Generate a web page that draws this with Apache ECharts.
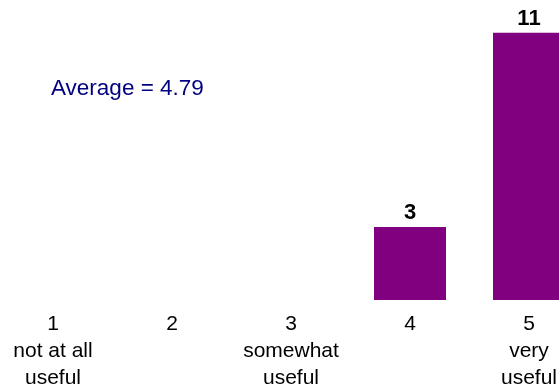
<!DOCTYPE html>
<html>
<head>
<meta charset="utf-8">
<script src="https://cdn.jsdelivr.net/npm/echarts@6/dist/echarts.min.js"></script>
<style>
  html, body { margin: 0; padding: 0; background: #fff; }
  #chart { width: 559px; height: 387px; }
</style>
</head>
<body>
<div id="chart"></div>
<script>
// Rating scale: response counts per score
const scores = ['1', '2', '3', '4', '5'];
const scoreNames = ['not at all\nuseful', '', 'somewhat\nuseful', '', 'very\nuseful'];
const counts = [0, 0, 0, 3, 11];
const averageText = 'Average = 4.79';

const categoryLabels = scores.map((s, i) => scoreNames[i] ? s + '\n' + scoreNames[i] : s);
const FONT = 'Liberation Sans, Arial, sans-serif';

const chart = echarts.init(document.getElementById('chart'), null, { renderer: 'canvas' });

chart.setOption({
  animation: false,
  grid: {
    left: -6.5, width: 595, top: 8.4, bottom: 87,
    containLabel: false,
    outerBoundsMode: 'none'
  },
  xAxis: {
    type: 'category',
    data: categoryLabels,
    axisLine: { show: false },
    axisTick: { show: false },
    axisLabel: {
      interval: 0,
      margin: 11,
      fontFamily: FONT,
      fontSize: 21,
      lineHeight: 26.7,
      color: '#000'
    }
  },
  yAxis: {
    type: 'value',
    min: 0,
    max: 12,
    show: false,
    splitLine: { show: false }
  },
  series: [{
    type: 'bar',
    data: counts.map(v => (v === 0 ? null : v)),
    barWidth: 72,
    itemStyle: { color: '#800080' },
    label: {
      show: true,
      position: 'top',
      distance: 3,
      fontFamily: FONT,
      fontSize: 22,
      fontWeight: 'bold',
      color: '#000'
    }
  }],
  graphic: [{
    type: 'text',
    x: 51,
    y: 89,
    style: {
      text: averageText,
      fontFamily: FONT,
      fontSize: 22.5,
      verticalAlign: 'middle',
      fill: '#000080'
    }
  }]
});
</script>
</body>
</html>
